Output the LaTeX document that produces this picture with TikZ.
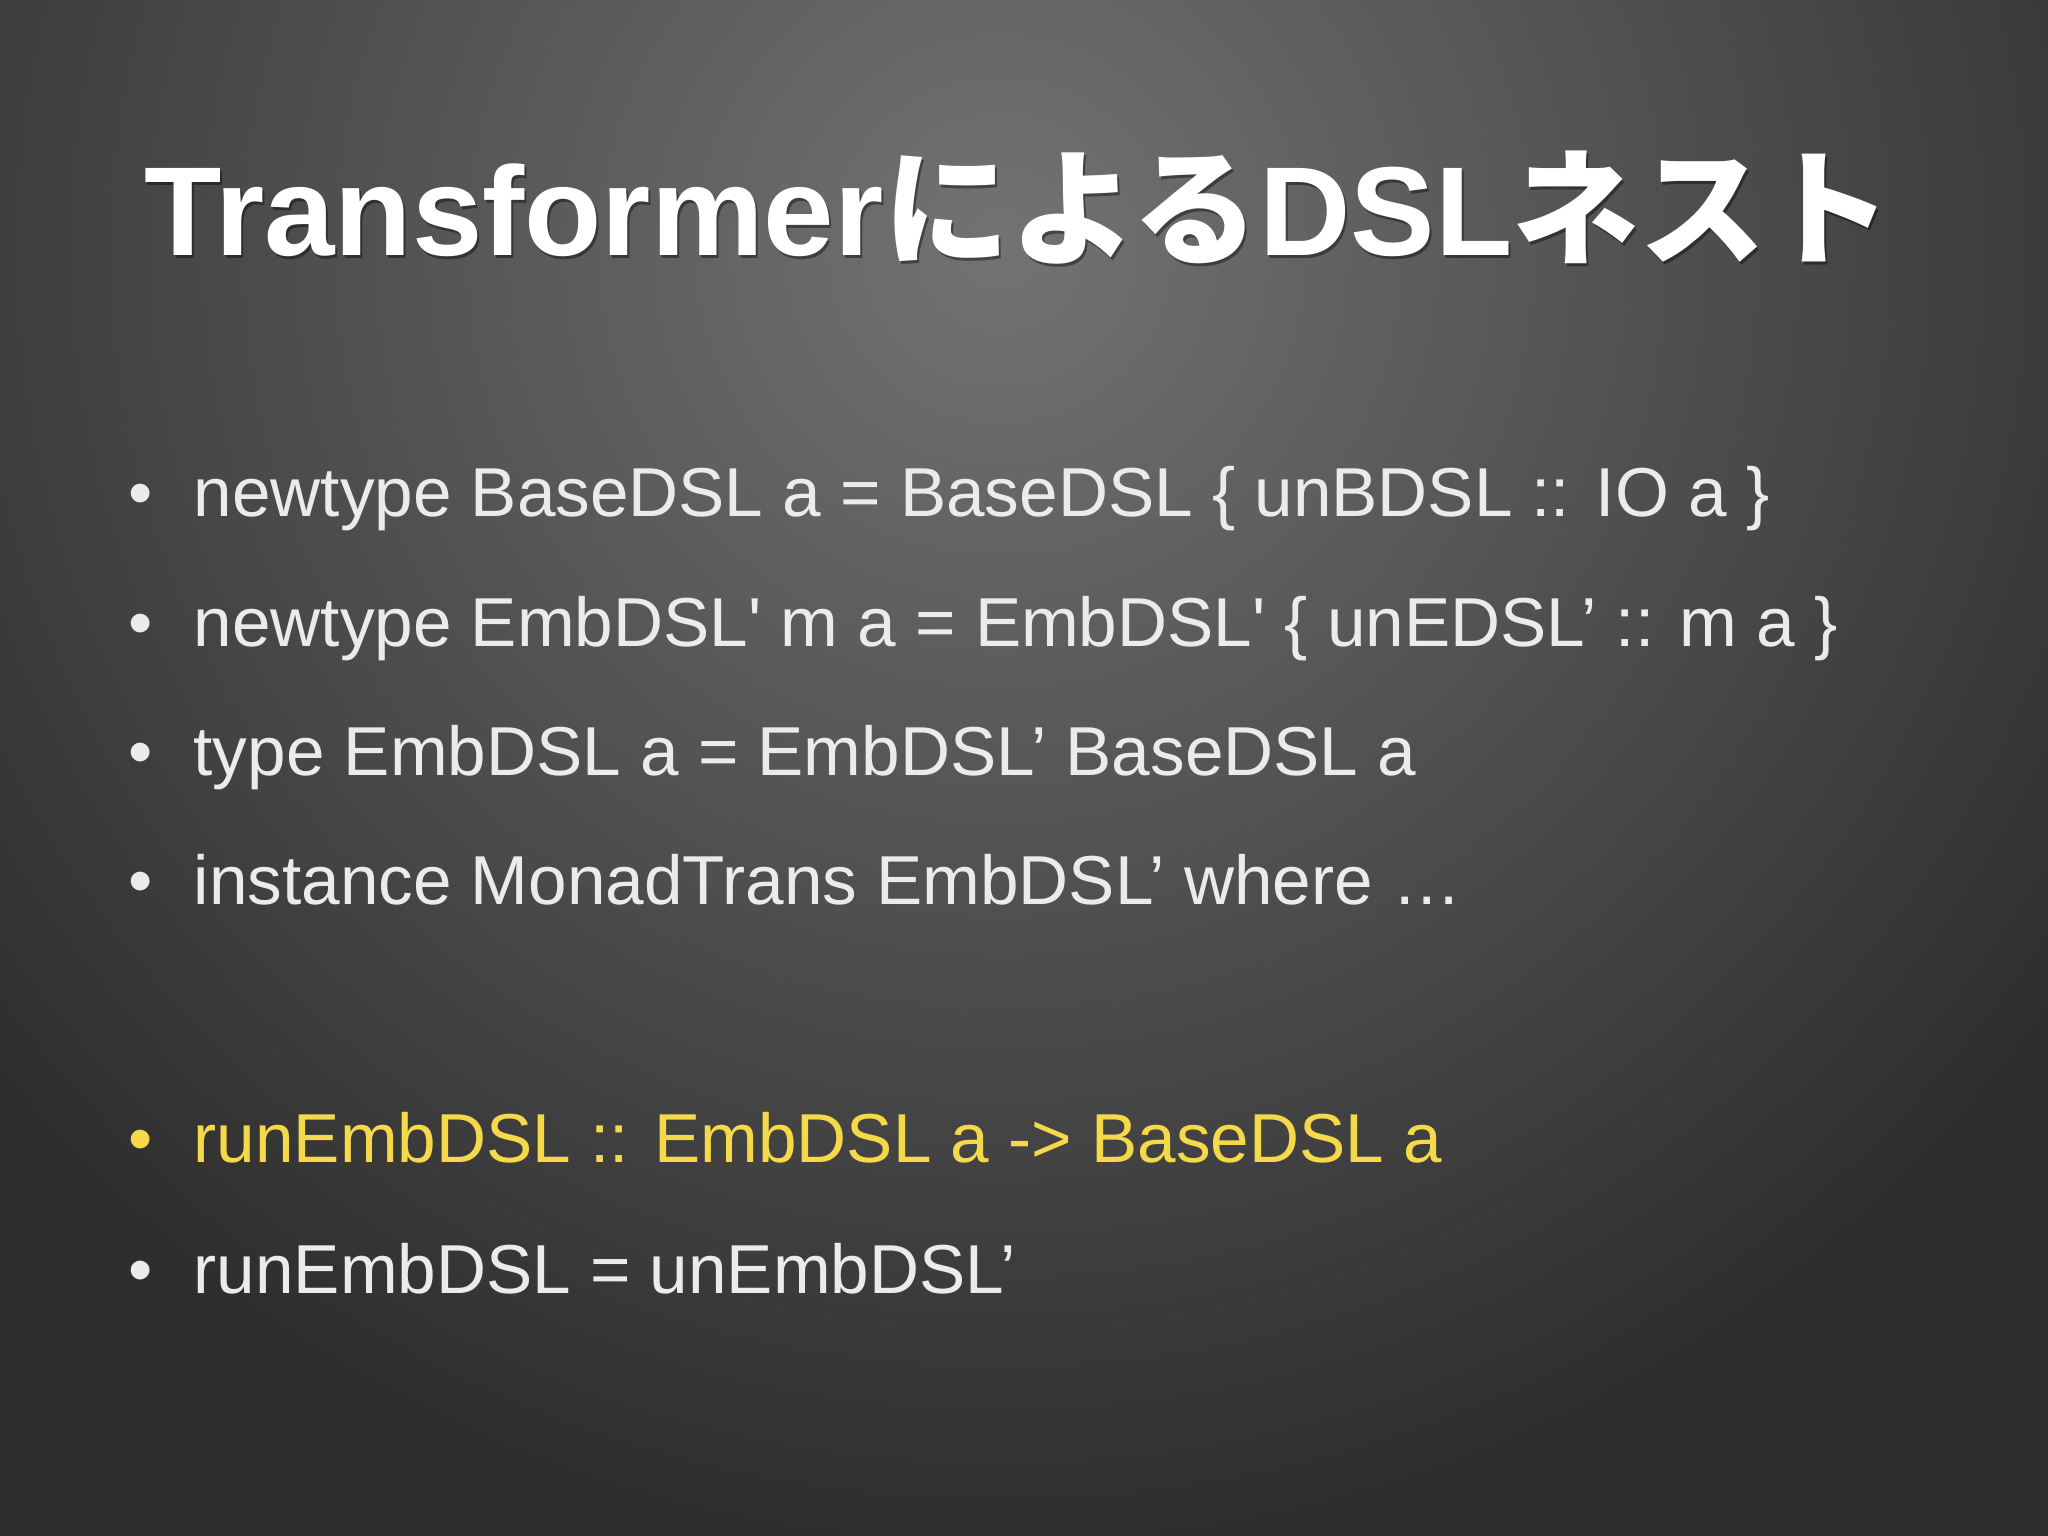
\documentclass[tikz,border=0pt]{standalone}
\usepackage{fontspec}
\setmainfont{Liberation Sans}
\newfontfamily\cjk{Noto Sans CJK JP}
\newfontfamily\nomap[Ligatures=TeXOff]{Liberation Sans}
\newcommand{\sq}{{\nomap'}}
\begin{document}
\begin{tikzpicture}[x=0.01cm,y=-0.01cm,
  line/.style={anchor=base west,inner sep=0pt,text=white!92!black,font=\fontsize{19.7}{24}\selectfont},
  bul/.style={anchor=base,inner sep=0pt,text=white!92!black,font=\fontsize{19.7}{24}\selectfont}]
\useasboundingbox (0,0) rectangle (2048,1536);
\fill[black!82] (0,0) rectangle (2048,1536);
\begin{scope}
\clip (0,0) rectangle (2048,1536);
\shade[inner color=black!55,outer color=black!82] (1000,250) circle (1300);
\end{scope}
\node[anchor=base west,inner sep=0pt,text=black,opacity=0.4,font=\fontsize{36}{44}\selectfont\bfseries] at (146,258) {Transformer{\cjk による}DSL{\cjk ネスト}};
\node (title)[anchor=base west,inner sep=0pt,text=white,font=\fontsize{36}{44}\selectfont\bfseries] at (144,255) {Transformer{\cjk による}DSL{\cjk ネスト}};
\foreach \y/\n in {516/b1,646/b2,775/b3,904/b4,1293/b6}{\node(\n)[bul] at (141,\y) {•};}
\node (b5)[bul,text={rgb,255:red,245;green,217;blue,74}] at (141,1162) {•};
\node (l1)[line] at (193,516) {newtype BaseDSL a = BaseDSL \{ unBDSL :: IO a \}};
\node (l2)[line] at (193,646) {newtype EmbDSL\sq{} m a = EmbDSL\sq{} \{ unEDSL’ :: m a \}};
\node (l3)[line] at (193,775) {type EmbDSL a = EmbDSL’ BaseDSL a};
\node (l4)[line] at (193,904) {instance MonadTrans EmbDSL’ where …};
\node (l5)[line,text={rgb,255:red,245;green,217;blue,74}] at (193,1162) {runEmbDSL :: EmbDSL a -> BaseDSL a};
\node (l6)[line] at (193,1293) {runEmbDSL = unEmbDSL’};
\end{tikzpicture}
\end{document}
